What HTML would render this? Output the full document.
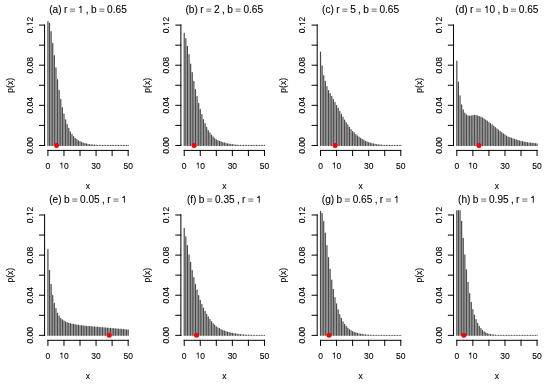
<!DOCTYPE html><html><head><meta charset="utf-8"><style>html,body{margin:0;padding:0;background:#fff;}svg{display:block;will-change:transform;}text{font-family:"Liberation Sans",sans-serif;fill:#000;stroke:#000;stroke-width:0.1px;font-kerning:none;}</style></head><body>
<svg width="550" height="385" viewBox="0 0 550 385">
<rect width="550" height="385" fill="#fff"/>
<g><path d="M47.92 145.45V21.54M49.52 145.45V23.45M51.13 145.45V31.57M52.73 145.45V43.29M54.34 145.45V55.63M55.95 145.45V67.76M57.55 145.45V79.48M59.16 145.45V90.31M60.76 145.45V99.43M62.37 145.45V107.66M63.97 145.45V114.07M65.58 145.45V119.89M67.18 145.45V124.60M68.78 145.45V128.41M70.39 145.45V131.92M72.00 145.45V134.42M73.60 145.45V136.52M75.20 145.45V138.23M76.81 145.45V139.62M78.42 145.45V140.75M80.02 145.45V141.68M81.62 145.45V142.43M83.23 145.45V143.04M84.84 145.45V143.54M86.44 145.45V143.95M88.05 145.45V144.29M89.65 145.45V144.56M91.25 145.45V144.78M92.86 145.45V144.96M94.47 145.45V145.10M96.07 145.45V145.22M97.68 145.45V145.32M99.28 145.45V145.40M100.88 145.45V145.45M102.49 145.45V145.45M104.09 145.45V145.45M105.70 145.45V145.45M107.31 145.45V145.45M108.91 145.45V145.45M110.52 145.45V145.45M112.12 145.45V145.45M113.72 145.45V145.45M115.33 145.45V145.45M116.94 145.45V145.45M118.54 145.45V145.45M120.14 145.45V145.45M121.75 145.45V145.45M123.36 145.45V145.45M124.96 145.45V145.45M126.56 145.45V145.45M128.17 145.45V145.45" stroke="#4a4a4a" stroke-width="1.20" stroke-linecap="round" fill="none"/><circle cx="56.52" cy="145.45" r="2.50" fill="#f00"/><path d="M44.59 145.45V25.09M44.59 145.45H39.49M44.59 125.39H39.49M44.59 105.33H39.49M44.59 85.27H39.49M44.59 65.21H39.49M44.59 45.15H39.49M44.59 25.09H39.49M47.92 150.40H128.17M47.92 150.40V155.50M63.97 150.40V155.50M80.02 150.40V155.50M96.07 150.40V155.50M112.12 150.40V155.50M128.17 150.40V155.50" stroke="#000" stroke-width="1" fill="none" stroke-linecap="square"/><g transform="translate(32.64 145.45) rotate(-90)"><text font-size="8.50" x="-8.27" y="0.00">0.00</text></g><g transform="translate(32.64 105.33) rotate(-90)"><text font-size="8.50" x="-8.27" y="0.00">0.04</text></g><g transform="translate(32.64 65.21) rotate(-90)"><text font-size="8.50" x="-8.27" y="0.00">0.08</text></g><g transform="translate(32.64 25.09) rotate(-90)"><text font-size="8.50" x="-8.27" y="0.00">0.</text><path d="M359 0L274 0L274 505L101 505L101 567C190 573 245 600 265 703L359 703Z" transform="matrix(0.00850 0 0 -0.00850 -1.18 0.00)"/><text font-size="8.50" x="3.54" y="0.00">2</text></g><text font-size="8.50" x="45.56" y="168.60">0</text><path d="M359 0L274 0L274 505L101 505L101 567C190 573 245 600 265 703L359 703Z" transform="matrix(0.00850 0 0 -0.00850 59.24 168.60)"/><text font-size="8.50" x="63.97" y="168.60">0</text><text font-size="8.50" x="91.34" y="168.60">30</text><text font-size="8.50" x="123.44" y="168.60">50</text><text font-size="8.50" text-anchor="middle" x="87.98" y="188.60">x</text><text font-size="8.50" text-anchor="middle" transform="translate(13.45 85.34) rotate(-90)">p(x)</text><text font-size="10.10" x="49.20" y="12.90">(a)</text><text font-size="10.10" x="63.88" y="12.90">r</text><path d="M69.98 9.16H75.09" stroke="#333" stroke-width="0.70"/><path d="M69.98 11.23H75.09" stroke="#333" stroke-width="0.70"/><path d="M359 0L274 0L274 505L101 505L101 567C190 573 245 600 265 703L359 703Z" transform="matrix(0.01010 0 0 -0.01010 77.82 12.90)"/><text font-size="10.10" x="85.78" y="12.90">,</text><text font-size="10.10" x="90.92" y="12.90">b</text><path d="M99.27 9.16H104.38" stroke="#333" stroke-width="0.70"/><path d="M99.27 11.23H104.38" stroke="#333" stroke-width="0.70"/><text font-size="10.10" x="107.12" y="12.90">0.65</text></g>
<g><path d="M184.22 145.45V33.17M185.83 145.45V38.58M187.43 145.45V46.30M189.04 145.45V54.72M190.64 145.45V64.05M192.25 145.45V72.57M193.85 145.45V81.39M195.46 145.45V89.51M197.06 145.45V96.63M198.67 145.45V103.24M200.27 145.45V109.46M201.88 145.45V114.57M203.48 145.45V119.69M205.09 145.45V123.59M206.69 145.45V127.40M208.30 145.45V130.51M209.90 145.45V132.92M211.51 145.45V135.12M213.11 145.45V136.73M214.72 145.45V138.53M216.32 145.45V139.84M217.93 145.45V140.65M219.53 145.45V141.36M221.14 145.45V141.97M222.74 145.45V142.49M224.35 145.45V142.94M225.95 145.45V143.42M227.56 145.45V143.82M229.16 145.45V144.15M230.77 145.45V144.42M232.37 145.45V144.65M233.98 145.45V144.83M235.58 145.45V144.99M237.19 145.45V145.12M238.79 145.45V145.23M240.40 145.45V145.32M242.00 145.45V145.39M243.61 145.45V145.45M245.21 145.45V145.45M246.82 145.45V145.45M248.42 145.45V145.45M250.03 145.45V145.45M251.63 145.45V145.45M253.24 145.45V145.45M254.84 145.45V145.45M256.45 145.45V145.45M258.05 145.45V145.45M259.66 145.45V145.45M261.26 145.45V145.45M262.87 145.45V145.45M264.47 145.45V145.45" stroke="#4a4a4a" stroke-width="1.20" stroke-linecap="round" fill="none"/><circle cx="194.12" cy="145.45" r="2.50" fill="#f00"/><path d="M180.89 145.45V25.09M180.89 145.45H175.79M180.89 125.39H175.79M180.89 105.33H175.79M180.89 85.27H175.79M180.89 65.21H175.79M180.89 45.15H175.79M180.89 25.09H175.79M184.22 150.40H264.47M184.22 150.40V155.50M200.27 150.40V155.50M216.32 150.40V155.50M232.37 150.40V155.50M248.42 150.40V155.50M264.47 150.40V155.50" stroke="#000" stroke-width="1" fill="none" stroke-linecap="square"/><g transform="translate(168.94 145.45) rotate(-90)"><text font-size="8.50" x="-8.27" y="0.00">0.00</text></g><g transform="translate(168.94 105.33) rotate(-90)"><text font-size="8.50" x="-8.27" y="0.00">0.04</text></g><g transform="translate(168.94 65.21) rotate(-90)"><text font-size="8.50" x="-8.27" y="0.00">0.08</text></g><g transform="translate(168.94 25.09) rotate(-90)"><text font-size="8.50" x="-8.27" y="0.00">0.</text><path d="M359 0L274 0L274 505L101 505L101 567C190 573 245 600 265 703L359 703Z" transform="matrix(0.00850 0 0 -0.00850 -1.18 0.00)"/><text font-size="8.50" x="3.54" y="0.00">2</text></g><text font-size="8.50" x="181.86" y="168.60">0</text><path d="M359 0L274 0L274 505L101 505L101 567C190 573 245 600 265 703L359 703Z" transform="matrix(0.00850 0 0 -0.00850 195.54 168.60)"/><text font-size="8.50" x="200.27" y="168.60">0</text><text font-size="8.50" x="227.64" y="168.60">30</text><text font-size="8.50" x="259.74" y="168.60">50</text><text font-size="8.50" text-anchor="middle" x="224.29" y="188.60">x</text><text font-size="8.50" text-anchor="middle" transform="translate(149.75 85.34) rotate(-90)">p(x)</text><text font-size="10.10" x="185.50" y="12.90">(b)</text><text font-size="10.10" x="200.18" y="12.90">r</text><path d="M206.28 9.16H211.39" stroke="#333" stroke-width="0.70"/><path d="M206.28 11.23H211.39" stroke="#333" stroke-width="0.70"/><text font-size="10.10" x="214.12" y="12.90">2</text><text font-size="10.10" x="222.08" y="12.90">,</text><text font-size="10.10" x="227.22" y="12.90">b</text><path d="M235.57 9.16H240.68" stroke="#333" stroke-width="0.70"/><path d="M235.57 11.23H240.68" stroke="#333" stroke-width="0.70"/><text font-size="10.10" x="243.42" y="12.90">0.65</text></g>
<g><path d="M320.52 145.45V52.22M322.13 145.45V65.75M323.73 145.45V75.58M325.34 145.45V81.39M326.94 145.45V86.50M328.55 145.45V90.71M330.15 145.45V93.52M331.76 145.45V96.43M333.36 145.45V99.53M334.97 145.45V102.44M336.57 145.45V105.55M338.18 145.45V108.36M339.78 145.45V111.36M341.39 145.45V114.47M342.99 145.45V117.08M344.60 145.45V120.19M346.20 145.45V122.59M347.81 145.45V124.90M349.41 145.45V127.40M351.02 145.45V129.51M352.62 145.45V131.61M354.23 145.45V132.82M355.83 145.45V134.52M357.44 145.45V135.83M359.04 145.45V137.13M360.65 145.45V138.33M362.25 145.45V139.23M363.86 145.45V140.14M365.46 145.45V141.24M367.07 145.45V141.94M368.67 145.45V142.64M370.28 145.45V143.13M371.88 145.45V143.54M373.49 145.45V143.95M375.09 145.45V144.28M376.70 145.45V144.55M378.30 145.45V144.78M379.91 145.45V144.97M381.51 145.45V145.13M383.12 145.45V145.25M384.72 145.45V145.35M386.33 145.45V145.43M387.93 145.45V145.45M389.54 145.45V145.45M391.14 145.45V145.45M392.75 145.45V145.45M394.35 145.45V145.45M395.96 145.45V145.45M397.56 145.45V145.45M399.17 145.45V145.45M400.77 145.45V145.45" stroke="#4a4a4a" stroke-width="1.20" stroke-linecap="round" fill="none"/><circle cx="335.17" cy="145.45" r="2.50" fill="#f00"/><path d="M317.19 145.45V25.09M317.19 145.45H312.09M317.19 125.39H312.09M317.19 105.33H312.09M317.19 85.27H312.09M317.19 65.21H312.09M317.19 45.15H312.09M317.19 25.09H312.09M320.52 150.40H400.77M320.52 150.40V155.50M336.57 150.40V155.50M352.62 150.40V155.50M368.67 150.40V155.50M384.72 150.40V155.50M400.77 150.40V155.50" stroke="#000" stroke-width="1" fill="none" stroke-linecap="square"/><g transform="translate(305.24 145.45) rotate(-90)"><text font-size="8.50" x="-8.27" y="0.00">0.00</text></g><g transform="translate(305.24 105.33) rotate(-90)"><text font-size="8.50" x="-8.27" y="0.00">0.04</text></g><g transform="translate(305.24 65.21) rotate(-90)"><text font-size="8.50" x="-8.27" y="0.00">0.08</text></g><g transform="translate(305.24 25.09) rotate(-90)"><text font-size="8.50" x="-8.27" y="0.00">0.</text><path d="M359 0L274 0L274 505L101 505L101 567C190 573 245 600 265 703L359 703Z" transform="matrix(0.00850 0 0 -0.00850 -1.18 0.00)"/><text font-size="8.50" x="3.54" y="0.00">2</text></g><text font-size="8.50" x="318.16" y="168.60">0</text><path d="M359 0L274 0L274 505L101 505L101 567C190 573 245 600 265 703L359 703Z" transform="matrix(0.00850 0 0 -0.00850 331.84 168.60)"/><text font-size="8.50" x="336.57" y="168.60">0</text><text font-size="8.50" x="363.94" y="168.60">30</text><text font-size="8.50" x="396.04" y="168.60">50</text><text font-size="8.50" text-anchor="middle" x="360.59" y="188.60">x</text><text font-size="8.50" text-anchor="middle" transform="translate(286.05 85.34) rotate(-90)">p(x)</text><text font-size="10.10" x="322.08" y="12.90">(c)</text><text font-size="10.10" x="336.20" y="12.90">r</text><path d="M342.29 9.16H347.40" stroke="#333" stroke-width="0.70"/><path d="M342.29 11.23H347.40" stroke="#333" stroke-width="0.70"/><text font-size="10.10" x="350.14" y="12.90">5</text><text font-size="10.10" x="358.09" y="12.90">,</text><text font-size="10.10" x="363.24" y="12.90">b</text><path d="M371.59 9.16H376.70" stroke="#333" stroke-width="0.70"/><path d="M371.59 11.23H376.70" stroke="#333" stroke-width="0.70"/><text font-size="10.10" x="379.44" y="12.90">0.65</text></g>
<g><path d="M456.82 145.45V61.14M458.43 145.45V82.09M460.03 145.45V95.83M461.64 145.45V104.75M463.24 145.45V109.96M464.85 145.45V113.07M466.45 145.45V114.97M468.06 145.45V115.78M469.66 145.45V115.98M471.27 145.45V115.78M472.87 145.45V115.57M474.48 145.45V115.37M476.08 145.45V115.57M477.69 145.45V115.88M479.29 145.45V116.48M480.90 145.45V117.08M482.50 145.45V117.88M484.11 145.45V118.88M485.71 145.45V119.99M487.32 145.45V121.09M488.92 145.45V122.49M490.53 145.45V123.70M492.13 145.45V124.90M493.74 145.45V126.20M495.34 145.45V127.50M496.95 145.45V128.81M498.55 145.45V130.21M500.16 145.45V131.51M501.76 145.45V132.62M503.37 145.45V133.82M504.97 145.45V134.92M506.58 145.45V136.03M508.18 145.45V137.03M509.79 145.45V137.48M511.39 145.45V138.18M513.00 145.45V138.78M514.60 145.45V139.28M516.21 145.45V139.89M517.81 145.45V140.39M519.42 145.45V140.79M521.02 145.45V141.29M522.62 145.45V141.69M524.23 145.45V141.99M525.84 145.45V142.39M527.44 145.45V142.69M529.05 145.45V142.89M530.65 145.45V143.10M532.26 145.45V143.29M533.86 145.45V143.47M535.47 145.45V143.64M537.07 145.45V143.80" stroke="#4a4a4a" stroke-width="1.20" stroke-linecap="round" fill="none"/><circle cx="478.97" cy="145.45" r="2.50" fill="#f00"/><path d="M453.49 145.45V25.09M453.49 145.45H448.39M453.49 125.39H448.39M453.49 105.33H448.39M453.49 85.27H448.39M453.49 65.21H448.39M453.49 45.15H448.39M453.49 25.09H448.39M456.82 150.40H537.07M456.82 150.40V155.50M472.87 150.40V155.50M488.92 150.40V155.50M504.97 150.40V155.50M521.02 150.40V155.50M537.07 150.40V155.50" stroke="#000" stroke-width="1" fill="none" stroke-linecap="square"/><g transform="translate(441.54 145.45) rotate(-90)"><text font-size="8.50" x="-8.27" y="0.00">0.00</text></g><g transform="translate(441.54 105.33) rotate(-90)"><text font-size="8.50" x="-8.27" y="0.00">0.04</text></g><g transform="translate(441.54 65.21) rotate(-90)"><text font-size="8.50" x="-8.27" y="0.00">0.08</text></g><g transform="translate(441.54 25.09) rotate(-90)"><text font-size="8.50" x="-8.27" y="0.00">0.</text><path d="M359 0L274 0L274 505L101 505L101 567C190 573 245 600 265 703L359 703Z" transform="matrix(0.00850 0 0 -0.00850 -1.18 0.00)"/><text font-size="8.50" x="3.54" y="0.00">2</text></g><text font-size="8.50" x="454.46" y="168.60">0</text><path d="M359 0L274 0L274 505L101 505L101 567C190 573 245 600 265 703L359 703Z" transform="matrix(0.00850 0 0 -0.00850 468.14 168.60)"/><text font-size="8.50" x="472.87" y="168.60">0</text><text font-size="8.50" x="500.24" y="168.60">30</text><text font-size="8.50" x="532.34" y="168.60">50</text><text font-size="8.50" text-anchor="middle" x="496.89" y="188.60">x</text><text font-size="8.50" text-anchor="middle" transform="translate(422.35 85.34) rotate(-90)">p(x)</text><text font-size="10.10" x="455.29" y="12.90">(d)</text><text font-size="10.10" x="469.97" y="12.90">r</text><path d="M476.07 9.16H481.18" stroke="#333" stroke-width="0.70"/><path d="M476.07 11.23H481.18" stroke="#333" stroke-width="0.70"/><path d="M359 0L274 0L274 505L101 505L101 567C190 573 245 600 265 703L359 703Z" transform="matrix(0.01010 0 0 -0.01010 483.91 12.90)"/><text font-size="10.10" x="489.53" y="12.90">0</text><text font-size="10.10" x="497.48" y="12.90">,</text><text font-size="10.10" x="502.63" y="12.90">b</text><path d="M510.98 9.16H516.09" stroke="#333" stroke-width="0.70"/><path d="M510.98 11.23H516.09" stroke="#333" stroke-width="0.70"/><text font-size="10.10" x="518.83" y="12.90">0.65</text></g>
<g><path d="M47.92 335.35V249.44M49.52 335.35V270.39M51.13 335.35V284.42M52.73 335.35V295.45M54.34 335.35V303.47M55.95 335.35V308.58M57.55 335.35V313.29M59.16 335.35V316.20M60.76 335.35V318.41M62.37 335.35V319.81M63.97 335.35V320.91M65.58 335.35V321.92M67.18 335.35V322.72M68.78 335.35V323.32M70.39 335.35V323.72M72.00 335.35V324.12M73.60 335.35V324.42M75.20 335.35V324.72M76.81 335.35V325.02M78.42 335.35V325.22M80.02 335.35V325.52M81.62 335.35V325.70M83.23 335.35V325.88M84.84 335.35V326.06M86.44 335.35V326.23M88.05 335.35V326.35M89.65 335.35V326.48M91.25 335.35V326.60M92.86 335.35V326.73M94.47 335.35V326.89M96.07 335.35V327.06M97.68 335.35V327.22M99.28 335.35V327.38M100.88 335.35V327.53M102.49 335.35V327.68M104.09 335.35V327.83M105.70 335.35V327.97M107.31 335.35V328.11M108.91 335.35V328.24M110.52 335.35V328.37M112.12 335.35V328.50M113.72 335.35V328.63M115.33 335.35V328.77M116.94 335.35V328.91M118.54 335.35V329.05M120.14 335.35V329.18M121.75 335.35V329.31M123.36 335.35V329.43M124.96 335.35V329.61M126.56 335.35V329.77M128.17 335.35V329.94" stroke="#4a4a4a" stroke-width="1.20" stroke-linecap="round" fill="none"/><circle cx="109.23" cy="335.35" r="2.50" fill="#f00"/><path d="M44.59 335.35V214.99M44.59 335.35H39.49M44.59 315.29H39.49M44.59 295.23H39.49M44.59 275.17H39.49M44.59 255.11H39.49M44.59 235.05H39.49M44.59 214.99H39.49M47.92 340.30H128.17M47.92 340.30V345.40M63.97 340.30V345.40M80.02 340.30V345.40M96.07 340.30V345.40M112.12 340.30V345.40M128.17 340.30V345.40" stroke="#000" stroke-width="1" fill="none" stroke-linecap="square"/><g transform="translate(32.64 335.35) rotate(-90)"><text font-size="8.50" x="-8.27" y="0.00">0.00</text></g><g transform="translate(32.64 295.23) rotate(-90)"><text font-size="8.50" x="-8.27" y="0.00">0.04</text></g><g transform="translate(32.64 255.11) rotate(-90)"><text font-size="8.50" x="-8.27" y="0.00">0.08</text></g><g transform="translate(32.64 214.99) rotate(-90)"><text font-size="8.50" x="-8.27" y="0.00">0.</text><path d="M359 0L274 0L274 505L101 505L101 567C190 573 245 600 265 703L359 703Z" transform="matrix(0.00850 0 0 -0.00850 -1.18 0.00)"/><text font-size="8.50" x="3.54" y="0.00">2</text></g><text font-size="8.50" x="45.56" y="358.50">0</text><path d="M359 0L274 0L274 505L101 505L101 567C190 573 245 600 265 703L359 703Z" transform="matrix(0.00850 0 0 -0.00850 59.24 358.50)"/><text font-size="8.50" x="63.97" y="358.50">0</text><text font-size="8.50" x="91.34" y="358.50">30</text><text font-size="8.50" x="123.44" y="358.50">50</text><text font-size="8.50" text-anchor="middle" x="87.98" y="378.50">x</text><text font-size="8.50" text-anchor="middle" transform="translate(13.45 275.24) rotate(-90)">p(x)</text><text font-size="10.10" x="49.20" y="202.80">(e)</text><text font-size="10.10" x="63.88" y="202.80">b</text><path d="M72.23 199.06H77.34" stroke="#333" stroke-width="0.70"/><path d="M72.23 201.13H77.34" stroke="#333" stroke-width="0.70"/><text font-size="10.10" x="80.07" y="202.80">0.05</text><text font-size="10.10" x="102.07" y="202.80">,</text><text font-size="10.10" x="107.22" y="202.80">r</text><path d="M113.31 199.06H118.42" stroke="#333" stroke-width="0.70"/><path d="M113.31 201.13H118.42" stroke="#333" stroke-width="0.70"/><path d="M359 0L274 0L274 505L101 505L101 567C190 573 245 600 265 703L359 703Z" transform="matrix(0.01010 0 0 -0.01010 121.16 202.80)"/></g>
<g><path d="M184.22 335.35V228.28M185.83 335.35V236.90M187.43 335.35V245.63M189.04 335.35V254.85M190.64 335.35V262.47M192.25 335.35V270.59M193.85 335.35V277.51M195.46 335.35V284.42M197.06 335.35V290.04M198.67 335.35V295.55M200.27 335.35V300.26M201.88 335.35V304.47M203.48 335.35V307.98M205.09 335.35V311.29M206.69 335.35V314.40M208.30 335.35V316.90M209.90 335.35V319.31M211.51 335.35V321.62M213.11 335.35V323.72M214.72 335.35V325.22M216.32 335.35V326.83M217.93 335.35V327.78M219.53 335.35V328.63M221.14 335.35V329.49M222.74 335.35V330.24M224.35 335.35V330.93M225.95 335.35V331.54M227.56 335.35V332.08M229.16 335.35V332.54M230.77 335.35V332.97M232.37 335.35V333.34M233.98 335.35V333.67M235.58 335.35V333.95M237.19 335.35V334.22M238.79 335.35V334.45M240.40 335.35V334.61M242.00 335.35V334.75M243.61 335.35V334.87M245.21 335.35V334.98M246.82 335.35V335.07M248.42 335.35V335.15M250.03 335.35V335.22M251.63 335.35V335.29M253.24 335.35V335.34M254.84 335.35V335.35M256.45 335.35V335.35M258.05 335.35V335.35M259.66 335.35V335.35M261.26 335.35V335.35M262.87 335.35V335.35M264.47 335.35V335.35" stroke="#4a4a4a" stroke-width="1.20" stroke-linecap="round" fill="none"/><circle cx="196.51" cy="335.35" r="2.50" fill="#f00"/><path d="M180.89 335.35V214.99M180.89 335.35H175.79M180.89 315.29H175.79M180.89 295.23H175.79M180.89 275.17H175.79M180.89 255.11H175.79M180.89 235.05H175.79M180.89 214.99H175.79M184.22 340.30H264.47M184.22 340.30V345.40M200.27 340.30V345.40M216.32 340.30V345.40M232.37 340.30V345.40M248.42 340.30V345.40M264.47 340.30V345.40" stroke="#000" stroke-width="1" fill="none" stroke-linecap="square"/><g transform="translate(168.94 335.35) rotate(-90)"><text font-size="8.50" x="-8.27" y="0.00">0.00</text></g><g transform="translate(168.94 295.23) rotate(-90)"><text font-size="8.50" x="-8.27" y="0.00">0.04</text></g><g transform="translate(168.94 255.11) rotate(-90)"><text font-size="8.50" x="-8.27" y="0.00">0.08</text></g><g transform="translate(168.94 214.99) rotate(-90)"><text font-size="8.50" x="-8.27" y="0.00">0.</text><path d="M359 0L274 0L274 505L101 505L101 567C190 573 245 600 265 703L359 703Z" transform="matrix(0.00850 0 0 -0.00850 -1.18 0.00)"/><text font-size="8.50" x="3.54" y="0.00">2</text></g><text font-size="8.50" x="181.86" y="358.50">0</text><path d="M359 0L274 0L274 505L101 505L101 567C190 573 245 600 265 703L359 703Z" transform="matrix(0.00850 0 0 -0.00850 195.54 358.50)"/><text font-size="8.50" x="200.27" y="358.50">0</text><text font-size="8.50" x="227.64" y="358.50">30</text><text font-size="8.50" x="259.74" y="358.50">50</text><text font-size="8.50" text-anchor="middle" x="224.29" y="378.50">x</text><text font-size="8.50" text-anchor="middle" transform="translate(149.75 275.24) rotate(-90)">p(x)</text><text font-size="10.10" x="186.90" y="202.80">(f)</text><text font-size="10.10" x="198.78" y="202.80">b</text><path d="M207.12 199.06H212.24" stroke="#333" stroke-width="0.70"/><path d="M207.12 201.13H212.24" stroke="#333" stroke-width="0.70"/><text font-size="10.10" x="214.97" y="202.80">0.35</text><text font-size="10.10" x="236.96" y="202.80">,</text><text font-size="10.10" x="242.11" y="202.80">r</text><path d="M248.21 199.06H253.32" stroke="#333" stroke-width="0.70"/><path d="M248.21 201.13H253.32" stroke="#333" stroke-width="0.70"/><path d="M359 0L274 0L274 505L101 505L101 567C190 573 245 600 265 703L359 703Z" transform="matrix(0.01010 0 0 -0.01010 256.05 202.80)"/></g>
<g><path d="M320.52 335.35V211.44M322.13 335.35V213.35M323.73 335.35V221.47M325.34 335.35V233.19M326.94 335.35V245.53M328.55 335.35V257.66M330.15 335.35V269.38M331.76 335.35V280.21M333.36 335.35V289.33M334.97 335.35V297.56M336.57 335.35V303.97M338.18 335.35V309.79M339.78 335.35V314.50M341.39 335.35V318.31M342.99 335.35V321.82M344.60 335.35V324.32M346.20 335.35V326.42M347.81 335.35V328.13M349.41 335.35V329.52M351.02 335.35V330.65M352.62 335.35V331.58M354.23 335.35V332.33M355.83 335.35V332.94M357.44 335.35V333.44M359.04 335.35V333.85M360.65 335.35V334.19M362.25 335.35V334.46M363.86 335.35V334.68M365.46 335.35V334.86M367.07 335.35V335.00M368.67 335.35V335.12M370.28 335.35V335.22M371.88 335.35V335.30M373.49 335.35V335.35M375.09 335.35V335.35M376.70 335.35V335.35M378.30 335.35V335.35M379.91 335.35V335.35M381.51 335.35V335.35M383.12 335.35V335.35M384.72 335.35V335.35M386.33 335.35V335.35M387.93 335.35V335.35M389.54 335.35V335.35M391.14 335.35V335.35M392.75 335.35V335.35M394.35 335.35V335.35M395.96 335.35V335.35M397.56 335.35V335.35M399.17 335.35V335.35M400.77 335.35V335.35" stroke="#4a4a4a" stroke-width="1.20" stroke-linecap="round" fill="none"/><circle cx="329.07" cy="335.35" r="2.50" fill="#f00"/><path d="M317.19 335.35V214.99M317.19 335.35H312.09M317.19 315.29H312.09M317.19 295.23H312.09M317.19 275.17H312.09M317.19 255.11H312.09M317.19 235.05H312.09M317.19 214.99H312.09M320.52 340.30H400.77M320.52 340.30V345.40M336.57 340.30V345.40M352.62 340.30V345.40M368.67 340.30V345.40M384.72 340.30V345.40M400.77 340.30V345.40" stroke="#000" stroke-width="1" fill="none" stroke-linecap="square"/><g transform="translate(305.24 335.35) rotate(-90)"><text font-size="8.50" x="-8.27" y="0.00">0.00</text></g><g transform="translate(305.24 295.23) rotate(-90)"><text font-size="8.50" x="-8.27" y="0.00">0.04</text></g><g transform="translate(305.24 255.11) rotate(-90)"><text font-size="8.50" x="-8.27" y="0.00">0.08</text></g><g transform="translate(305.24 214.99) rotate(-90)"><text font-size="8.50" x="-8.27" y="0.00">0.</text><path d="M359 0L274 0L274 505L101 505L101 567C190 573 245 600 265 703L359 703Z" transform="matrix(0.00850 0 0 -0.00850 -1.18 0.00)"/><text font-size="8.50" x="3.54" y="0.00">2</text></g><text font-size="8.50" x="318.16" y="358.50">0</text><path d="M359 0L274 0L274 505L101 505L101 567C190 573 245 600 265 703L359 703Z" transform="matrix(0.00850 0 0 -0.00850 331.84 358.50)"/><text font-size="8.50" x="336.57" y="358.50">0</text><text font-size="8.50" x="363.94" y="358.50">30</text><text font-size="8.50" x="396.04" y="358.50">50</text><text font-size="8.50" text-anchor="middle" x="360.59" y="378.50">x</text><text font-size="8.50" text-anchor="middle" transform="translate(286.05 275.24) rotate(-90)">p(x)</text><text font-size="10.10" x="321.80" y="202.80">(g)</text><text font-size="10.10" x="336.48" y="202.80">b</text><path d="M344.83 199.06H349.94" stroke="#333" stroke-width="0.70"/><path d="M344.83 201.13H349.94" stroke="#333" stroke-width="0.70"/><text font-size="10.10" x="352.67" y="202.80">0.65</text><text font-size="10.10" x="374.67" y="202.80">,</text><text font-size="10.10" x="379.82" y="202.80">r</text><path d="M385.91 199.06H391.02" stroke="#333" stroke-width="0.70"/><path d="M385.91 201.13H391.02" stroke="#333" stroke-width="0.70"/><path d="M359 0L274 0L274 505L101 505L101 567C190 573 245 600 265 703L359 703Z" transform="matrix(0.01010 0 0 -0.01010 393.76 202.80)"/></g>
<g><path d="M456.82 335.35V210.69M458.43 335.35V210.69M460.03 335.35V210.69M461.64 335.35V221.37M463.24 335.35V238.31M464.85 335.35V254.85M466.45 335.35V269.79M468.06 335.35V282.32M469.66 335.35V293.55M471.27 335.35V302.47M472.87 335.35V309.69M474.48 335.35V315.20M476.08 335.35V319.71M477.69 335.35V323.42M479.29 335.35V326.33M480.90 335.35V328.33M482.50 335.35V330.44M484.11 335.35V331.74M485.71 335.35V332.74M487.32 335.35V333.54M488.92 335.35V334.15M490.53 335.35V334.50M492.13 335.35V334.76M493.74 335.35V334.97M495.34 335.35V335.13M496.95 335.35V335.25M498.55 335.35V335.35M500.16 335.35V335.35M501.76 335.35V335.35M503.37 335.35V335.35M504.97 335.35V335.35M506.58 335.35V335.35M508.18 335.35V335.35M509.79 335.35V335.35M511.39 335.35V335.35M513.00 335.35V335.35M514.60 335.35V335.35M516.21 335.35V335.35M517.81 335.35V335.35M519.42 335.35V335.35M521.02 335.35V335.35M522.62 335.35V335.35M524.23 335.35V335.35M525.84 335.35V335.35M527.44 335.35V335.35M529.05 335.35V335.35M530.65 335.35V335.35M532.26 335.35V335.35M533.86 335.35V335.35M535.47 335.35V335.35M537.07 335.35V335.35" stroke="#4a4a4a" stroke-width="1.20" stroke-linecap="round" fill="none"/><circle cx="463.82" cy="335.35" r="2.50" fill="#f00"/><path d="M453.49 335.35V214.99M453.49 335.35H448.39M453.49 315.29H448.39M453.49 295.23H448.39M453.49 275.17H448.39M453.49 255.11H448.39M453.49 235.05H448.39M453.49 214.99H448.39M456.82 340.30H537.07M456.82 340.30V345.40M472.87 340.30V345.40M488.92 340.30V345.40M504.97 340.30V345.40M521.02 340.30V345.40M537.07 340.30V345.40" stroke="#000" stroke-width="1" fill="none" stroke-linecap="square"/><g transform="translate(441.54 335.35) rotate(-90)"><text font-size="8.50" x="-8.27" y="0.00">0.00</text></g><g transform="translate(441.54 295.23) rotate(-90)"><text font-size="8.50" x="-8.27" y="0.00">0.04</text></g><g transform="translate(441.54 255.11) rotate(-90)"><text font-size="8.50" x="-8.27" y="0.00">0.08</text></g><g transform="translate(441.54 214.99) rotate(-90)"><text font-size="8.50" x="-8.27" y="0.00">0.</text><path d="M359 0L274 0L274 505L101 505L101 567C190 573 245 600 265 703L359 703Z" transform="matrix(0.00850 0 0 -0.00850 -1.18 0.00)"/><text font-size="8.50" x="3.54" y="0.00">2</text></g><text font-size="8.50" x="454.46" y="358.50">0</text><path d="M359 0L274 0L274 505L101 505L101 567C190 573 245 600 265 703L359 703Z" transform="matrix(0.00850 0 0 -0.00850 468.14 358.50)"/><text font-size="8.50" x="472.87" y="358.50">0</text><text font-size="8.50" x="500.24" y="358.50">30</text><text font-size="8.50" x="532.34" y="358.50">50</text><text font-size="8.50" text-anchor="middle" x="496.89" y="378.50">x</text><text font-size="8.50" text-anchor="middle" transform="translate(422.35 275.24) rotate(-90)">p(x)</text><text font-size="10.10" x="458.10" y="202.80">(h)</text><text font-size="10.10" x="472.78" y="202.80">b</text><path d="M481.13 199.06H486.24" stroke="#333" stroke-width="0.70"/><path d="M481.13 201.13H486.24" stroke="#333" stroke-width="0.70"/><text font-size="10.10" x="488.97" y="202.80">0.95</text><text font-size="10.10" x="510.97" y="202.80">,</text><text font-size="10.10" x="516.12" y="202.80">r</text><path d="M522.21 199.06H527.32" stroke="#333" stroke-width="0.70"/><path d="M522.21 201.13H527.32" stroke="#333" stroke-width="0.70"/><path d="M359 0L274 0L274 505L101 505L101 567C190 573 245 600 265 703L359 703Z" transform="matrix(0.01010 0 0 -0.01010 530.06 202.80)"/></g>
</svg></body></html>
